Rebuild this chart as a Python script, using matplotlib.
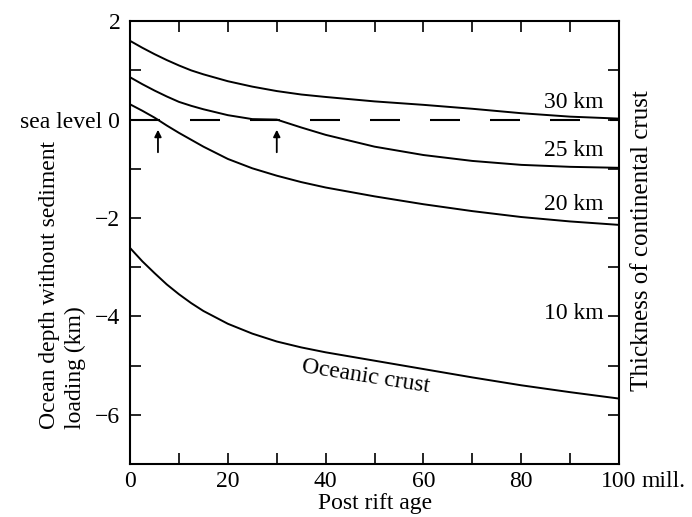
import matplotlib
matplotlib.use('Agg')
import matplotlib.pyplot as plt

plt.rcParams['font.family'] = ['Liberation Serif', 'DejaVu Serif']
plt.rcParams['font.size'] = 17

# post rift age (mill. years)
age = [0, 2.5, 5, 7.5, 10, 12.5, 15, 20, 25, 30, 35, 40, 50, 60, 70, 80, 90, 100]

# ocean depth without sediment loading (km)
crust30 = [1.60, 1.46, 1.33, 1.21, 1.10, 1.00, 0.92, 0.78, 0.67, 0.58, 0.51, 0.46, 0.37, 0.30, 0.22, 0.13, 0.06, 0.02]
crust25 = [0.86, 0.72, 0.59, 0.47, 0.36, 0.28, 0.21, 0.09, 0.01, 0.00, -0.16, -0.31, -0.55, -0.72, -0.84, -0.92, -0.96, -0.98]
crust20 = [0.31, 0.18, 0.04, -0.12, -0.27, -0.41, -0.55, -0.80, -0.99, -1.14, -1.27, -1.38, -1.56, -1.72, -1.86, -1.98, -2.07, -2.14]
oceanic = [-2.61, -2.88, -3.12, -3.35, -3.55, -3.73, -3.89, -4.15, -4.35, -4.51, -4.63, -4.73, -4.90, -5.07, -5.24, -5.40, -5.54, -5.67]

# arrows (age where sea level is reached)
arrow_x = [5.7, 30.0]

# thickness labels on the right side
thick_labels = ['30 km', '25 km', '20 km', '10 km']
thick_y = [0.34, -0.63, -1.72, -3.95]

xticks = [0, 10, 20, 30, 40, 50, 60, 70, 80, 90, 100]
xlabels = ['0', '', '20', '', '40', '', '60', '', '80', '', '100']
yticks = [2, 1, 0, -1, -2, -3, -4, -5, -6]
ylabels = ['2', '', 'sea level 0', '', '\u22122', '', '\u22124', '', '\u22126']

fig = plt.figure(figsize=(6.92, 5.17), dpi=100)
ax = fig.add_axes([0.188, 0.1025, 0.7065, 0.8565])

ax.plot(age, crust30, 'k-', lw=1.4)
ax.plot(age, crust25, 'k-', lw=1.4)
ax.plot(age, crust20, 'k-', lw=1.4)
ax.plot(age, oceanic, 'k-', lw=1.4)

# sea level
ax.plot([0, 100], [0, 0], color='k', lw=1.5, dashes=(14.4, 14.4))

for xa in arrow_x:
    ax.annotate('', xy=(xa, -0.15), xytext=(xa, -0.72),
                arrowprops=dict(arrowstyle='-|>', color='k', lw=1.3, mutation_scale=10))

for lab, yy in zip(thick_labels, thick_y):
    ax.text(96.9, yy, lab, ha='right', va='center')

ax.text(48.1, -5.23, 'Oceanic crust', ha='center', va='center', rotation=-9)

ax.set_xlim(0, 100)
ax.set_ylim(-7, 2)
ax.set_xticks(xticks)
ax.set_xticklabels(xlabels)
ax.set_yticks(yticks)
ax.set_yticklabels(ylabels)
ax.tick_params(direction='in', top=True, right=True, length=8, width=1.2, pad=5)
ax.tick_params(axis='y', pad=7)
for s in ax.spines.values():
    s.set_linewidth(1.5)

ax.annotate('mill.', xy=(100, 0), xycoords=('data', 'axes fraction'),
            xytext=(16, -5), textcoords='offset points', ha='left', va='top')

fig.text(0.091, 0.448, 'Ocean depth without sediment\nloading (km)', fontsize=17,
         rotation=90, ha='center', va='center', multialignment='left', linespacing=1.3)
fig.text(0.928, 0.534, 'Thickness of continental crust', fontsize=18,
         rotation=90, ha='center', va='center')
fig.text(0.542, 0.047, 'Post rift age', fontsize=17, ha='center', va='top')

fig.savefig('out.png', dpi=100)
